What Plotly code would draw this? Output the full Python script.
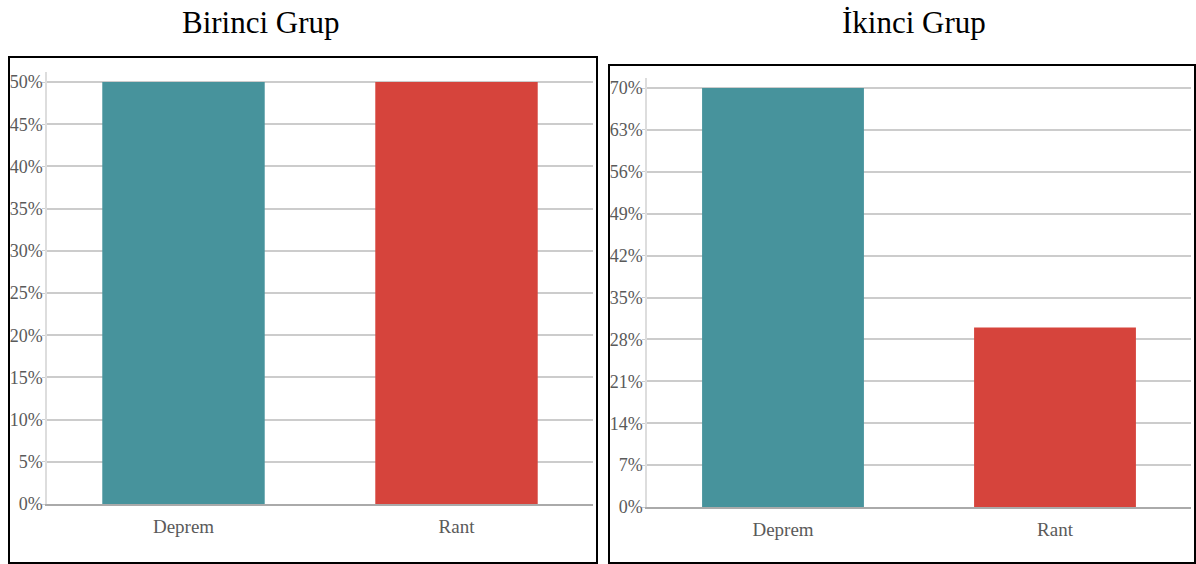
import plotly.graph_objects as go

W, H = 1196, 564

categories = ["Deprem", "Rant"]
birinci_values = [50, 50]
ikinci_values = [70, 30]
bar_colors = ["#47939c", "#d6443c"]
birinci_ticks = [0, 5, 10, 15, 20, 25, 30, 35, 40, 45, 50]
ikinci_ticks = [0, 7, 14, 21, 28, 35, 42, 49, 56, 63, 70]
birinci_labels = ["0%", "5%", "10%", "15%", "20%", "25%", "30%", "35%", "40%", "45%", "50%"]
ikinci_labels = ["0%", "7%", "14%", "21%", "28%", "35%", "42%", "49%", "56%", "63%", "70%"]
titles = ["Birinci Grup", "İkinci Grup"]


def px_x(p):
    return p / W


def px_y(p):
    return 1 - p / H


fig = go.Figure()
fig.add_trace(go.Bar(x=categories, y=birinci_values, marker_color=bar_colors,
                     marker_line_width=0, xaxis="x", yaxis="y", hoverinfo="x+y"))
fig.add_trace(go.Bar(x=categories, y=ikinci_values, marker_color=bar_colors,
                     marker_line_width=0, xaxis="x2", yaxis="y2", hoverinfo="x+y"))

tick_font = dict(family="Liberation Serif", size=18, color="#5a5a5a")
common_y = dict(showgrid=True, gridcolor="#cccccc", gridwidth=1.5, showline=True,
                linecolor="#dddddd", linewidth=1.5, ticks="outside", ticklen=3,
                tickcolor="#cccccc", tickfont=tick_font, tickmode="array",
                ticklabelstandoff=-4,
                zeroline=False, fixedrange=True, automargin=False)
common_x = dict(showline=True, linecolor="#aaaaaa", linewidth=1.5, ticks="",
                tickfont=dict(family="Liberation Serif", size=19, color="#5a5a5a"),
                ticklabelstandoff=4, fixedrange=True, automargin=False)

# left panel: zero at y=504px, 50% at y=82px
l_top, l_bot = 72, 504
l_scale = (504 - 82) / 50
# right panel: zero at y=507px, 70% at y=88px
r_top, r_bot = 78, 507
r_scale = (507 - 88) / 70

fig.update_layout(
    width=W, height=H, autosize=False,
    margin=dict(l=0, r=0, t=0, b=0, pad=0, autoexpand=False),
    paper_bgcolor="white", plot_bgcolor="white",
    showlegend=False, bargap=0.405,
    xaxis=dict(domain=[px_x(47), px_x(593)], anchor="y", **common_x),
    yaxis=dict(domain=[px_y(l_bot), px_y(l_top)], anchor="x",
               range=[0, (l_bot - l_top) / l_scale], tickvals=birinci_ticks,
               ticktext=birinci_labels, **common_y),
    xaxis2=dict(domain=[px_x(647), px_x(1191)], anchor="y2", **common_x),
    yaxis2=dict(domain=[px_y(r_bot), px_y(r_top)], anchor="x2",
                range=[0, (r_bot - r_top) / r_scale], tickvals=ikinci_ticks,
                ticktext=ikinci_labels, **common_y),
)

# panel frames
for x0, y0, x1, y1 in [(9, 57, 597, 563), (609, 65, 1195, 563)]:
    fig.add_shape(type="rect", xref="paper", yref="paper",
                  x0=px_x(x0), x1=px_x(x1), y0=px_y(y1), y1=px_y(y0),
                  line=dict(color="black", width=2), fillcolor="rgba(0,0,0,0)")

# panel titles
for title, cx in zip(titles, [261, 914]):
    fig.add_annotation(text=title, xref="paper", yref="paper", x=px_x(cx), y=px_y(22),
                       xanchor="center", yanchor="middle", showarrow=False,
                       font=dict(family="Liberation Serif", size=31, color="black"))

fig.write_html("out.html")
